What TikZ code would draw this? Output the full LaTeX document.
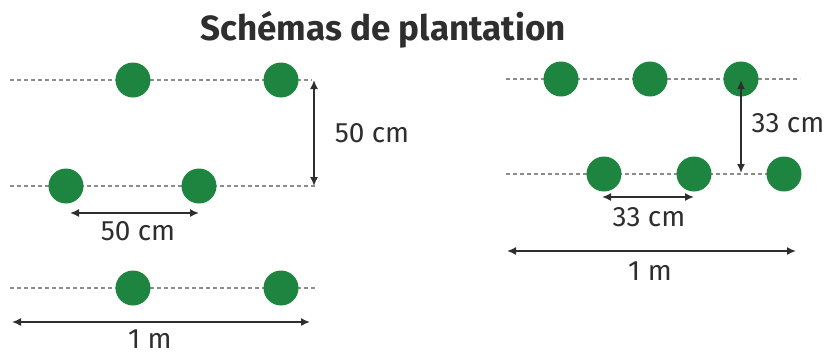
\documentclass[tikz,border=0pt]{standalone}
\usepackage{fontspec}
\setmainfont{Fira Sans}
\usetikzlibrary{arrows.meta}
\definecolor{plantgreen}{HTML}{1E8540}
\definecolor{ink}{HTML}{2E2E2E}
\definecolor{rowgray}{HTML}{8C8C8C}
\tikzset{
  plant/.style={circle,fill=plantgreen,minimum size=35pt,inner sep=0pt},
  rowline/.style={rowgray,line width=1.6pt,dash pattern=on 4pt off 3pt},
  dim/.style={ink,line width=1.6pt,{Latex[length=9pt,width=8pt]}-{Latex[length=9pt,width=8pt]}},
  lab/.style={ink,font=\fontsize{28}{32}\selectfont,inner sep=0pt},
}
\begin{document}
\begin{tikzpicture}[x=1pt,y=-1pt]
\useasboundingbox (0,0) rectangle (831,354);
\node[font=\bfseries\fontsize{35}{40}\selectfont,ink] (title) at (383,30) {Schémas de plantation};
% left panel
\coordinate (l1a) at (10,80); \coordinate (l1b) at (312,80);
\coordinate (l2a) at (10,186); \coordinate (l2b) at (315,186);
\coordinate (l3a) at (10,288); \coordinate (l3b) at (315,288);
\draw[rowline] (l1a) -- (l1b);
\draw[rowline] (l2a) -- (l2b);
\draw[rowline] (l3a) -- (l3b);
\node[plant] (a1) at (133,80) {};
\node[plant] (a2) at (281,80) {};
\node[plant] (b1) at (66,186) {};
\node[plant] (b2) at (199,186) {};
\node[plant] (c1) at (133,288) {};
\node[plant] (c2) at (281,288) {};
\coordinate (v1t) at (314,80); \coordinate (v1b) at (314,186);
\draw[dim] (v1t) -- (v1b);
\node[lab] (t1) at (372,133) {50 cm};
\coordinate (h1l) at (70,213); \coordinate (h1r) at (199,213);
\draw[dim] (h1l) -- (h1r);
\node[lab] (t2) at (138,231) {50 cm};
\coordinate (m1l) at (12,322); \coordinate (m1r) at (310,322);
\draw[dim] (m1l) -- (m1r);
\node[lab] (t3) at (150,339) {1 m};
% right panel
\coordinate (r1a) at (506,79); \coordinate (r1b) at (800,79);
\coordinate (r2a) at (506,174); \coordinate (r2b) at (780,174);
\draw[rowline] (r1a) -- (r1b);
\draw[rowline] (r2a) -- (r2b);
\node[plant] (d1) at (561,79) {};
\node[plant] (d2) at (650,79) {};
\node[plant] (d3) at (741,79) {};
\node[plant] (e1) at (604,174) {};
\node[plant] (e2) at (694,174) {};
\node[plant] (e3) at (784,174) {};
\coordinate (v2t) at (741,80); \coordinate (v2b) at (741,173);
\draw[dim] (v2t) -- (v2b);
\node[lab] (t4) at (788,123) {33 cm};
\coordinate (h2l) at (602,197); \coordinate (h2r) at (694,197);
\draw[dim] (h2l) -- (h2r);
\node[lab] (t5) at (649,217) {33 cm};
\coordinate (m2l) at (507,251); \coordinate (m2r) at (796,251);
\draw[dim] (m2l) -- (m2r);
\node[lab] (t6) at (650,271) {1 m};
\end{tikzpicture}
\end{document}
